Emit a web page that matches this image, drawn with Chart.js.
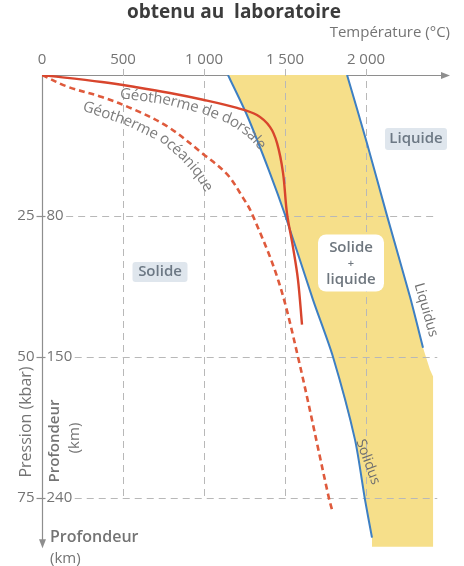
<!DOCTYPE html>
<html>
<head>
<meta charset="utf-8">
<script src="https://cdn.jsdelivr.net/npm/chart.js@4.4.1/dist/chart.umd.min.js"></script>
<style>
  html, body { margin: 0; padding: 0; background: #fff; }
  canvas { display: block; }
</style>
</head>
<body>
<canvas id="diagram" width="464" height="566"></canvas>
<script>
// ------------------------------------------------------------
// Valeurs (T en °C, P en kbar)
// ------------------------------------------------------------
const tempTicks = [0, 500, 1000, 1500, 2000];
const tempTickLabels = ['0', '500', '1 000', '1 500', '2 000'];
const pressTicks = [25, 50, 75];
const pressTickLabels = ['25', '50', '75'];
const depthTickLabels = ['80', '150', '240'];

const solidusT = [1148, 1265, 1407, 1500, 1673, 1796, 1932, 1994, 2037];
const solidusP = [0, 7.1, 17.4, 24.8, 39.9, 50, 64.7, 75.4, 82.1];
const liquidusT = [1883, 2006, 2130, 2272, 2352];
const liquidusP = [0, 12.1, 25, 39.4, 48.4];
const dorsaleT = [0, 370, 574, 790, 994, 1204, 1327, 1407, 1451, 1488, 1512, 1549, 1580, 1605];
const dorsaleP = [0, 1.24, 2.13, 3.2, 4.4, 5.85, 7.1, 9.2, 12.1, 17.4, 24.5, 30.5, 36.3, 44.3];
const oceanT = [0, 160, 370, 574, 778, 994, 1142, 1241, 1296, 1457, 1580, 1772, 1790];
const oceanP = [0, 2.1, 3.9, 6.2, 9.2, 14.0, 17.6, 21.8, 24.6, 36.3, 50, 75.2, 77.1];
// bord du domaine "solide + liquide" sous la fin du liquidus
const bandEdgeT = [2037, 2414, 2414, 2395];
const bandEdgeP = [83.7, 83.7, 53.5, 52.3];

const toPts = (ts, ps) => ts.map((t, i) => ({ x: t, y: ps[i] }));
const bandPts = toPts(solidusT, solidusP)
  .concat(toPts(bandEdgeT, bandEdgeP))
  .concat(toPts(liquidusT, liquidusP).reverse());

const FONT = '"Open Sans", "Noto Sans", sans-serif';
const GREY = '#747474';

function textAlong(ctx, text, pts) {
  const seg = [];
  let total = 0;
  for (let i = 1; i < pts.length; i++) {
    const l = Math.hypot(pts[i][0] - pts[i - 1][0], pts[i][1] - pts[i - 1][1]);
    seg.push(l); total += l;
  }
  let s = (total - ctx.measureText(text).width) / 2;
  for (const ch of text) {
    const w = ctx.measureText(ch).width;
    const mid = s + w / 2;
    let acc = 0, i = 0;
    while (i < seg.length - 1 && acc + seg[i] < mid) { acc += seg[i]; i++; }
    const t = (mid - acc) / seg[i];
    const [x0, y0] = pts[i], [x1, y1] = pts[i + 1];
    ctx.save();
    ctx.translate(x0 + (x1 - x0) * t, y0 + (y1 - y0) * t);
    ctx.rotate(Math.atan2(y1 - y0, x1 - x0));
    ctx.fillText(ch, 0, 0);
    ctx.restore();
    s += w;
  }
}

function roundBox(ctx, cx, cy, w, h, r, fill) {
  ctx.beginPath();
  ctx.roundRect(cx - w / 2, cy - h / 2, w, h, r);
  ctx.fillStyle = fill;
  ctx.fill();
}

function rotatedText(ctx, text, x, y, angleDeg, font, color) {
  ctx.save();
  ctx.translate(x, y);
  ctx.rotate(angleDeg * Math.PI / 180);
  ctx.font = font; ctx.fillStyle = color;
  ctx.textAlign = 'center'; ctx.textBaseline = 'middle';
  ctx.fillText(text, 0, 0);
  ctx.restore();
}

// grille pointillée, posée sur le fond jaune mais sous les courbes
const gridPlugin = {
  id: 'grid',
  afterDatasetDraw(chart, args) {
    if (args.index !== 0) return;
    const { ctx, scales: { x, y } } = chart;
    ctx.save();
    ctx.strokeStyle = '#b8b8b8';
    ctx.lineWidth = 1;
    ctx.setLineDash([7, 5]);
    tempTicks.forEach(t => {
      if (t === 0) return;
      const xp = Math.round(x.getPixelForValue(t)) + 0.5;
      ctx.beginPath(); ctx.moveTo(xp, y.getPixelForValue(0) - 6); ctx.lineTo(xp, y.getPixelForValue(75)); ctx.stroke();
    });
    ctx.font = '15px ' + FONT;
    pressTicks.forEach((p, i) => {
      const yp = Math.round(y.getPixelForValue(p)) + 0.5;
      const x0 = x.getPixelForValue(0) + 5 + ctx.measureText(depthTickLabels[i]).width + 2;
      ctx.beginPath(); ctx.moveTo(x0, yp); ctx.lineTo(x.getPixelForValue(2440), yp); ctx.stroke();
    });
    ctx.restore();
  }
};

// axes, flèches, graduations et titres
const axesPlugin = {
  id: 'axes',
  beforeDatasetsDraw(chart) {
    const { ctx, scales: { x, y } } = chart;
    const x0 = Math.round(x.getPixelForValue(0)) + 0.5;
    const y0 = Math.round(y.getPixelForValue(0)) + 0.5;
    const xEnd = chart.chartArea.right + 3;
    const yEnd = y.getPixelForValue(84);
    ctx.save();
    ctx.strokeStyle = '#8e8e8e'; ctx.fillStyle = '#8e8e8e'; ctx.lineWidth = 1.2;
    ctx.beginPath(); ctx.moveTo(x0, y0); ctx.lineTo(xEnd - 6, y0); ctx.stroke();
    ctx.beginPath(); ctx.moveTo(xEnd, y0); ctx.lineTo(xEnd - 9, y0 - 3.5); ctx.lineTo(xEnd - 9, y0 + 3.5); ctx.closePath(); ctx.fill();
    ctx.beginPath(); ctx.moveTo(x0, y0); ctx.lineTo(x0, yEnd - 6); ctx.stroke();
    ctx.beginPath(); ctx.moveTo(x0, yEnd); ctx.lineTo(x0 - 3.5, yEnd - 9); ctx.lineTo(x0 + 3.5, yEnd - 9); ctx.closePath(); ctx.fill();

    ctx.fillStyle = GREY;
    ctx.font = '15px ' + FONT;
    ctx.textAlign = 'center'; ctx.textBaseline = 'middle';
    tempTicks.forEach((t, i) => ctx.fillText(tempTickLabels[i], x.getPixelForValue(t), 60));
    ctx.textAlign = 'right';
    ctx.fillText('Température (°C)', xEnd, 33);

    pressTicks.forEach((p, i) => {
      const yp = y.getPixelForValue(p);
      ctx.textAlign = 'right'; ctx.fillText(pressTickLabels[i], x0 - 8, yp);
      ctx.textAlign = 'left'; ctx.fillText(depthTickLabels[i], x0 + 4, yp);
      ctx.beginPath(); ctx.moveTo(x0 - 6, Math.round(yp) + 0.5); ctx.lineTo(x0 + 3, Math.round(yp) + 0.5); ctx.stroke();
    });

    ctx.fillStyle = '#3c3c3c';
    ctx.font = 'bold 19px ' + FONT;
    ctx.textAlign = 'center';
    ctx.fillText('obtenu au  laboratoire', 234, 13);

    rotatedText(ctx, 'Pression (kbar)', 26, 422, -90, '16px ' + FONT, GREY);
    rotatedText(ctx, 'Profondeur', 55, 441, -90, '600 15px ' + FONT, GREY);
    rotatedText(ctx, '(km)', 75, 438, -90, '15px ' + FONT, GREY);

    ctx.fillStyle = GREY;
    ctx.textAlign = 'left';
    ctx.font = '600 16px ' + FONT;
    ctx.fillText('Profondeur', 50, 537);
    ctx.font = '15px ' + FONT;
    ctx.fillText('(km)', 50, 559);
    ctx.restore();
  },
  afterDatasetsDraw(chart) {
    const { ctx } = chart;
    ctx.save();
    // étiquettes des domaines
    roundBox(ctx, 160, 272, 55, 20, 3, '#dfe6ed');
    roundBox(ctx, 416, 139, 62, 22, 3, '#dfe6ed');
    roundBox(ctx, 351, 263, 66, 57, 8, '#ffffff');
    ctx.font = '600 15px ' + FONT;
    ctx.fillStyle = '#6c7884';
    ctx.textAlign = 'center'; ctx.textBaseline = 'middle';
    ctx.fillText('Solide', 160, 272);
    ctx.fillText('Liquide', 416, 139);
    ctx.fillStyle = '#6e767e';
    ctx.fillText('Solide', 351, 248);
    ctx.font = '600 11px ' + FONT;
    ctx.fillText('+', 351, 264);
    ctx.font = '600 15px ' + FONT;
    ctx.fillText('liquide', 351, 280);

    // noms des courbes
    ctx.font = '15px ' + FONT;
    ctx.fillStyle = '#7c7c7c';
    ctx.textBaseline = 'middle';
    textAlong(ctx, 'Géotherme de dorsale', [[122, 94], [166, 100], [205, 110], [229, 119], [249, 132], [262, 146]]);
    textAlong(ctx, 'Géotherme océanique', [[86, 107], [127, 121], [163, 138], [184, 156], [198, 172], [208, 188]]);
    rotatedText(ctx, 'Liquidus', 426, 310, 74, '14px ' + FONT, '#6e6e6e');
    rotatedText(ctx, 'Solidus', 368, 462, 70, '14px ' + FONT, '#6e6e6e');
    ctx.restore();
  }
};

new Chart(document.getElementById('diagram'), {
  type: 'scatter',
  data: {
    datasets: [
      { label: 'Solide + liquide', data: bandPts, showLine: true, fill: 'shape',
        backgroundColor: '#f6df8a', borderWidth: 0, pointRadius: 0, tension: 0, order: 10 },
      { label: 'Solidus', data: toPts(solidusT, solidusP), showLine: true, borderColor: '#3d7fc3',
        borderWidth: 2, pointRadius: 0, tension: 0.25, order: 3 },
      { label: 'Liquidus', data: toPts(liquidusT, liquidusP), showLine: true, borderColor: '#3d7fc3',
        borderWidth: 2, pointRadius: 0, tension: 0.25, order: 3 },
      { label: 'Géotherme océanique', data: toPts(oceanT, oceanP), showLine: true, borderColor: '#df5a3c',
        borderWidth: 2.6, borderDash: [6, 4], pointRadius: 0, tension: 0.35, order: 2 },
      { label: 'Géotherme de dorsale', data: toPts(dorsaleT, dorsaleP), showLine: true, borderColor: '#d8452d',
        borderWidth: 2.4, pointRadius: 0, tension: 0.35, order: 1 }
    ]
  },
  options: {
    responsive: false,
    animation: false,
    events: [],
    layout: { padding: { left: 42, top: 75, right: 17, bottom: 12 } },
    plugins: { legend: { display: false }, tooltip: { enabled: false } },
    scales: {
      x: { type: 'linear', min: 0, max: 2500, display: false },
      y: { type: 'linear', min: 0, max: 85, reverse: true, display: false }
    }
  },
  plugins: [gridPlugin, axesPlugin]
});
</script>
</body>
</html>
